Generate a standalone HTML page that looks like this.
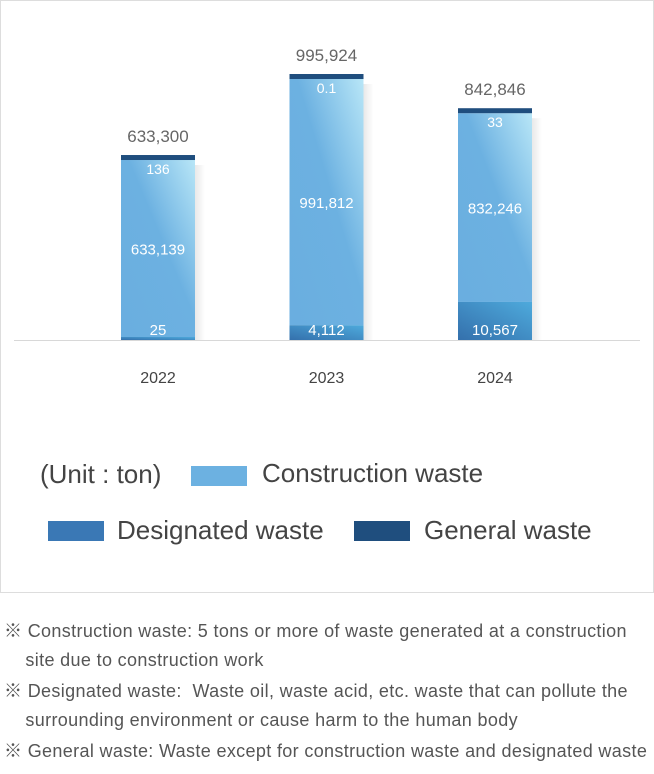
<!DOCTYPE html>
<html><head><meta charset="utf-8"><style>
body{margin:0;background:#fff;width:654px;height:774px;overflow:hidden;font-family:"Liberation Sans","Noto Sans CJK KR",sans-serif;}
#box{position:absolute;left:0;top:0;width:652px;height:591px;border:1px solid #ddd;}
.note{position:absolute;left:4px;font-size:18px;color:#555;line-height:29px;letter-spacing:0.35px;white-space:nowrap}
.lg{position:absolute;font-size:26px;color:#444}
.sw{position:absolute;width:56px;height:20px}
</style></head><body>
<div id="box"></div>
<svg id="chart" width="654" height="400" style="position:absolute;left:0;top:0">
<defs>
<linearGradient id="cg" x1="0" y1="1" x2="1" y2="0">
<stop offset="0" stop-color="#6aaee0"/><stop offset="0.55" stop-color="#6cb1e1"/><stop offset="1" stop-color="#b8e6f7"/></linearGradient>
<linearGradient id="dg" x1="0" y1="1" x2="1" y2="0">
<stop offset="0" stop-color="#3470ac"/><stop offset="1" stop-color="#4eaadc"/></linearGradient>
<linearGradient id="sg" x1="0" y1="0" x2="1" y2="0">
<stop offset="0" stop-color="#000" stop-opacity="0.09"/><stop offset="1" stop-color="#000" stop-opacity="0"/></linearGradient>
</defs>
</svg>
<div class="lg" style="left:40px;top:459px">(Unit : ton)</div>
<div class="sw" style="left:191px;top:466px;background:#6cb1e1"></div>
<div class="lg" style="left:262px;top:458px">Construction waste</div>
<div class="sw" style="left:48px;top:521px;background:#3a78b5"></div>
<div class="lg" style="left:117px;top:515px">Designated waste</div>
<div class="sw" style="left:354px;top:521px;background:#1f4e7e"></div>
<div class="lg" style="left:424px;top:515px">General waste</div>
<div class="note" style="top:617px">※ Construction waste: 5 tons or more of waste generated at a construction<br>&nbsp;&nbsp;&nbsp;&nbsp;site due to construction work</div>
<div class="note" style="top:677px">※ Designated waste:&nbsp; Waste oil, waste acid, etc. waste that can pollute the<br>&nbsp;&nbsp;&nbsp;&nbsp;surrounding environment or cause harm to the human body</div>
<div class="note" style="top:737px">※ General waste: Waste except for construction waste and designated waste</div>
<script>
const years=["2022","2023","2024"];
const construction=[633139,991812,832246];
const designated=[25,4112,10567];
const general=[136,0.1,33];
const totals=["633,300","995,924","842,846"];
const constLabels=["633,139","991,812","832,246"];
const desLabels=["25","4,112","10,567"];
const genLabels=["136","0.1","33"];
const svg=document.getElementById('chart');
const NS='http://www.w3.org/2000/svg';
const base=340, barW=74;
function yScaleH(v){return 43.5+v*0.0002234;}
function xPos(i){return 121+i*168.5;}
function mk(t,a){const e=document.createElementNS(NS,t);for(const k in a)e.setAttribute(k,a[k]);svg.appendChild(e);return e;}
const ax=mk('line',{x1:14,x2:640,y1:base+0.5,y2:base+0.5,stroke:'#d8d8d8','stroke-width':1});


function txt(x,y,s,fill,size,name){const t=mk('text',{x:x,y:y,'text-anchor':'middle',fill:fill,'font-size':size,'font-family':'Liberation Sans, Noto Sans CJK KR, sans-serif'});t.textContent=s;


return t;}
years.forEach((y,i)=>{
  const x=xPos(i), cx=x+barW/2;
  const total=construction[i]+designated[i]+general[i];
  const H=yScaleH(total);
  const hd=Math.max(3,designated[i]*0.0036);
  const hg=5;
  const hc=H-hd-hg;
  const yd=base-hd, yc=yd-hc, yg=yc-hg;
  const sh=mk('rect',{x:x+barW,y:yg+10,width:10,height:base-yg-10,fill:'url(#sg)'});
  
  
  const rc=mk('rect',{x:x,y:yc,width:barW,height:hc,fill:'url(#cg)'});
  
  
  const rd=mk('rect',{x:x,y:yd,width:barW,height:hd,fill:'url(#dg)'});
  
  
  const rg=mk('rect',{x:x,y:yg,width:barW,height:hg,fill:'#1f4e7e'});
  
  
  txt(cx,yg-13,totals[i],'#666',17,'total-label-'+y);
  txt(cx,yc+14,genLabels[i],'#fff',14,'general-value-'+y);
  txt(cx,yc+hc/2+6,constLabels[i],'#fff',15,'construction-value-'+y);
  txt(cx,base-5,desLabels[i],'#fff',15,'designated-value-'+y);
  txt(cx,383,y,'#444',16,'year-label-'+y);
});
</script>
</body></html>
